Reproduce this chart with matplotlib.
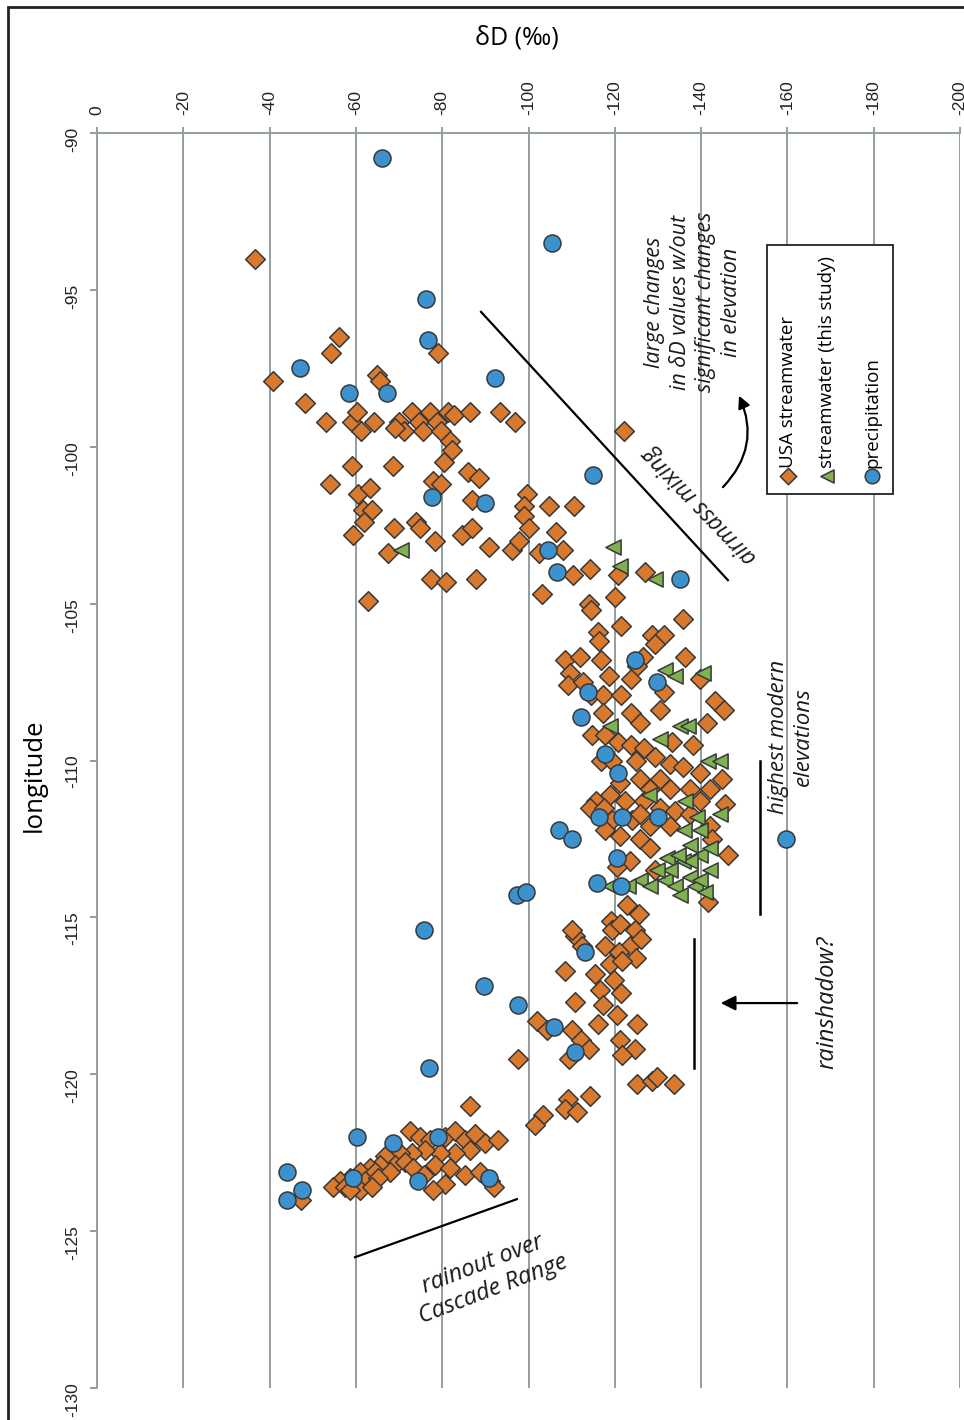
import numpy as np
import matplotlib.pyplot as plt
from matplotlib.patches import Rectangle, FancyArrowPatch

plt.rcParams['axes.unicode_minus'] = False

# precipitation (blue circles): dD (per mil), longitude
precip_dD = [-66, -105.5, -76.2, -76.7, -47, -58.4, -67.2, -92.2, -115, -77.6, -90, -104.5,
             -106.6, -135, -124.7, -129.7, -113.8, -112.2, -117.7, -120.7, -120.5, -116.3,
             -121.6, -130, -115.9, -121.4, -107, -110, -97.3, -99.4, -113.1, -75.8, -89.7,
             -97.6, -105.9, -110.8, -76.9, -159.7, -60.3, -68.6, -79, -59.3, -44, -47.5, -44,
             -74.4, -90.8]
precip_lon = [-90.8, -93.5, -95.3, -96.6, -97.5, -98.3, -98.3, -97.8, -100.9, -101.6, -101.8, -103.3,
              -104.0, -104.2, -106.8, -107.5, -107.8, -108.6, -109.8, -110.4, -113.1, -111.8,
              -111.8, -111.8, -113.9, -114.0, -112.2, -112.5, -114.3, -114.2, -116.1, -115.4, -117.2,
              -117.8, -118.5, -119.3, -119.8, -112.5, -122.0, -122.2, -122.0, -123.3, -123.1, -123.7, -124.0,
              -123.4, -123.3]

# streamwater (this study, green triangles)
study_dD = [-70.5, -119.6, -121.2, -129.3, -131.6, -134, -140.4, -118.9, -130.5, -135.1, -137,
            -141.6, -144.4, -128, -136.3, -139, -144.4, -136, -137.5, -132, -135.8, -139.8, -142.1,
            -125.8, -128.1, -131.6, -134, -137.5, -138.6, -118.9, -123, -139.8, -135.1, -140.9,
            -132.8, -129.8, -139.8, -142.1, -137.5, -134.7]
study_lon = [-103.3, -103.2, -103.8, -104.2, -107.1, -107.3, -107.2, -108.9, -109.3, -108.9, -108.9,
             -110.0, -110.0, -111.1, -111.3, -111.8, -111.7, -112.2, -112.7, -113.1, -113.2, -113.0, -113.5,
             -113.8, -114.0, -113.8, -114.0, -113.7, -114.0, -114.0, -114.0, -113.8, -114.3, -114.2,
             -113.5, -113.5, -112.2, -112.8, -113.2, -113.0]

# USA streamwater (orange diamonds)
usa_dD = [
    # northern / eastern group
    -36.6, -56.1, -54.2, -79, -40.8, -64.9, -65.5, -48.2, -53.1, -59.1, -64.2, -61.2, -60.3, -70,
    -73, -74.6, -77.2, -78.8, -81.4, -82.8, -86.4, -93.4, -96.9, -71.1, -75.5, -79.7, -69, -122.1,
    -81.8, -80.4, -82.3, -59.1, -68.6, -54, -86, -88.5, -77.9, -79.7, -60.5, -63.3, -61.7, -63.7,
    -86.9, -99.6, -104.7, -110.5, -61.9, -68.8, -73.9, -74.8, -78.3, -59.3, -84.6, -86.9, -98.9,
    -98.9, -100.1, -106.4, -90.8, -96.2, -97.8, -102.4, -108, -67.4, -77.4, -80.9, -87.8, -62.8,
    -103.1, -110.3, -114.3, -120.7, -127, -120, -114.1, -114.5,
    # high elevation group
    -135.8, -121.4, -116.1, -128.6, -131.4, -116.3, -129.3, -108.5, -112, -116.8, -109.7, -126.5,
    -125.1, -136.3, -109.2, -112.6, -118.7, -123.8, -131.4, -139.8, -114.5, -117.3, -121.4, -117.3,
    -123.8, -130.5, -143.2, -145.3, -125.8, -114.7, -117.7, -120.7, -123.8, -126.8, -133.3, -141.4,
    -138.1, -116.8, -119.3, -124.9, -129.3, -132.8, -135.8, -139.8, -144.8, -142.1, -121.2, -125.8,
    -128.1, -130.5, -132.8, -137.5, -139.8, -118.9, -115.6, -114.3, -117.5, -122.3, -126.8, -130.5,
    -134, -145.5, -119.3, -123.9, -125.8, -128.1, -132.8, -137.5, -142.1, -125.8, -121.2, -117.7,
    -142.6, -146.2, -123.5, -120.5, -128.1, -129.3, -141.6, -122.8, -125.6, -119.1,
    # basin group
    -119.3, -121.2, -124.7, -123.5, -126.1, -117.7, -120.9, -124.9, -110.8, -112.4, -110.1, -118.9,
    -121.6, -115.3, -119.8, -108.5, -116.6, -121.4, -117.3, -110.8, -116.1, -125.1, -120.5, -102,
    -104.3, -110.1, -112.2, -121.2, -114.1, -124.7, -121.6, -97.6, -109.4, -125.1, -128.6, -129.7,
    -133.7, -114.3, -109.2, -108.5, -111.3, -103.4, -101.5, -86.4,
    # Cascade group
    -72.5, -74.8, -77.2, -80.6, -82.9, -85.2, -87.6, -89.9, -92.9, -86.4, -82.9, -79.5, -76, -73,
    -70.2, -66.8, -69, -71.4, -65.6, -63.3, -61, -64.5, -67.9, -58.7, -56.3, -54.7, -57.5, -59.8,
    -62.1, -65.1, -61, -63.7, -58.7, -78.3, -81.8, -85.2, -88.7, -80.6, -77.9, -91, -91.9, -47.3,
    -73.3, -75.8]
usa_lon = [
    -94.0, -96.5, -97.0, -97.0, -97.9, -97.7, -97.9, -98.6, -99.2, -99.2, -99.2, -99.5, -98.9, -99.2,
    -98.9, -99.2, -98.9, -99.2, -98.9, -99.0, -98.9, -98.9, -99.2, -99.5, -99.5, -99.5, -99.4, -99.5,
    -99.8, -100.5, -100.1, -100.6, -100.6, -101.2, -100.8, -101.0, -101.1, -101.2, -101.5, -101.3, -102.0, -102.0,
    -101.7, -101.5, -101.9, -101.9, -102.4, -102.6, -102.4, -102.6, -103.0, -102.8, -102.8, -102.6, -101.9,
    -102.2, -102.6, -102.7, -103.2, -103.3, -103.0, -103.4, -103.3, -103.4, -104.2, -104.3, -104.2, -104.9,
    -104.7, -104.1, -103.9, -104.1, -104.0, -104.8, -105.0, -105.2,
    -105.5, -105.7, -105.9, -106.0, -106.0, -106.2, -106.3, -106.8, -106.7, -106.8, -107.2, -106.7,
    -107.0, -106.7, -107.6, -107.5, -107.3, -107.4, -107.8, -107.4, -107.9, -107.9, -107.9, -108.5,
    -108.5, -108.4, -108.1, -108.4, -108.8, -109.2, -109.2, -109.4, -109.5, -109.6, -109.4, -108.8,
    -109.5, -110.0, -110.0, -110.0, -109.9, -110.1, -110.2, -110.4, -110.6, -110.9, -110.7, -110.6,
    -110.9, -110.6, -110.9, -110.9, -111.3, -111.1, -111.3, -111.5, -111.5, -111.3, -111.3, -111.5,
    -111.6, -111.4, -111.9, -111.9, -111.7, -112.1, -112.1, -111.7, -112.1, -112.5, -112.4, -112.2,
    -112.5, -113.0, -113.2, -113.4, -112.8, -113.5, -114.5, -114.6, -114.9, -115.1,
    -115.4, -115.2, -115.4, -115.9, -115.7, -115.9, -116.1, -116.3, -115.6, -115.9, -115.4, -116.5,
    -116.4, -116.8, -117.0, -116.7, -117.3, -117.4, -117.8, -117.7, -118.4, -118.4, -118.1, -118.3,
    -118.6, -118.6, -118.9, -118.9, -119.2, -119.2, -119.4, -119.5, -119.5, -120.3, -120.2, -120.1,
    -120.3, -120.7, -120.8, -121.1, -121.2, -121.3, -121.6, -121.0,
    -121.8, -122.0, -122.1, -122.0, -121.8, -122.1, -121.9, -122.2, -122.1, -122.4, -122.5, -122.5, -122.4, -122.5,
    -122.5, -122.6, -122.9, -122.8, -122.9, -123.0, -123.1, -123.1, -123.1, -123.3, -123.4, -123.6, -123.6, -123.4,
    -123.4, -123.3, -123.7, -123.6, -123.7, -122.9, -123.0, -123.2, -123.1, -123.5, -123.7, -123.4, -123.6, -124.0,
    -123.0, -123.2]

dD_ticks = list(range(0, -201, -20))
lon_ticks = list(range(-90, -131, -5))

orange = '#d8792e'
green = '#7fb24f'
blue = '#3b92cf'
edge = '#383838'
gray = '#939e9e'

fig = plt.figure(figsize=(9.64, 14.2), dpi=100)
ax = fig.add_axes([0.1006, 0.0225, 0.8953, 0.8838])

ax.scatter(usa_dD, usa_lon, marker='D', s=100, c=orange, edgecolors=edge, linewidths=1.1, zorder=3, clip_on=False)
ax.scatter(study_dD, study_lon, marker='<', s=120, c=green, edgecolors=edge, linewidths=1.1, zorder=4, clip_on=False)
ax.scatter(precip_dD, precip_lon, marker='o', s=150, c=blue, edgecolors=edge, linewidths=1.1, zorder=5, clip_on=False)

ax.set_xlim(0, -200)
ax.set_ylim(-130, -90)
ax.set_xticks(dD_ticks)
ax.set_yticks(lon_ticks)
ax.xaxis.set_ticks_position('top')
ax.xaxis.set_label_position('top')
ax.grid(axis='x', color=gray, lw=1.4, zorder=1)
for side in ['right', 'bottom']:
    ax.spines[side].set_visible(False)
for side in ['left', 'top']:
    ax.spines[side].set_color(gray)
    ax.spines[side].set_linewidth(1.4)
ax.tick_params(axis='x', top=True, bottom=False, labeltop=True, labelbottom=False,
               labelrotation=90, length=4, width=1.4, color=gray, pad=9)
ax.tick_params(axis='y', length=5, width=1.4, color=gray, labelrotation=90, pad=7)
for lab in ax.get_xticklabels() + ax.get_yticklabels():
    lab.set_fontfamily('Liberation Sans')
    lab.set_fontsize(12.5)
    lab.set_color('#222222')

fig.text(0.5363, 0.973, 'δD (‰)', family='Open Sans', fontsize=18, ha='center', va='center')
fig.text(0.036, 0.454, 'longitude', family='Open Sans', fontsize=18.5, rotation=90, ha='center', va='center')

ital = dict(family='Open Sans', style='italic', color='#1a1a1a')

# airmass mixing
ax.plot([-89, -146.2], [-95.7, -104.25], color='black', lw=1.6, zorder=6)
ax.text(-139.7, -101.86, 'airmass mixing', rotation=-226, ha='center', va='center', fontsize=16.5, **ital)
ax.text(-138.1, -95.39, 'large changes\nin δD values w/out\nsignificant changes\nin elevation',
        rotation=90, ha='center', va='center', multialignment='center', linespacing=1.3,
        fontsize=15.5, **ital)
ax.add_patch(FancyArrowPatch((-144.6, -101.35), (-148.5, -98.29), connectionstyle='arc3,rad=0.35',
                             arrowstyle='-|>', mutation_scale=18, lw=1.6, color='black', zorder=6))

# highest modern elevations
ax.plot([-153.7, -153.7], [-110, -114.9], color='black', lw=1.8, zorder=6)
ax.text(-160.8, -109.25, 'highest modern\nelevations', rotation=90, ha='center', va='center',
        multialignment='center', linespacing=1.2, fontsize=16, **ital)

# rainshadow
ax.plot([-138.4, -138.4], [-115.7, -119.8], color='black', lw=1.8, zorder=6)
ax.annotate('', xy=(-143.9, -117.73), xytext=(-162.9, -117.73),
            arrowprops=dict(arrowstyle='-|>', mutation_scale=22, lw=1.6, color='black'), zorder=6)
ax.text(-169.2, -117.7, 'rainshadow?', rotation=90, ha='center', va='center', fontsize=17, **ital)

# rainout
ax.plot([-59.8, -97.3], [-125.83, -123.98], color='black', lw=1.6, zorder=6)
ax.text(-90.6, -126.45, 'rainout over\nCascade Range', rotation=21, ha='center', va='center',
        multialignment='center', linespacing=1.15, fontsize=17, **ital)

# legend (rotated, drawn by hand)
ax.add_patch(Rectangle((0.776, 0.7124), 0.146, 0.1984, transform=ax.transAxes, facecolor='white',
                       edgecolor='#222222', lw=1.3, zorder=7))
leg = [('D', orange, 'USA streamwater', 0.8007, 70),
       ('<', green, 'streamwater (this study)', 0.8459, 90),
       ('o', blue, 'precipitation', 0.898, 110)]
for mk, col, name, xf, sz in leg:
    ax.scatter([xf], [0.7267], marker=mk, s=sz, c=col, edgecolors=edge, linewidths=1.1,
               transform=ax.transAxes, zorder=8, clip_on=False)
    ax.text(xf, 0.7335, name, transform=ax.transAxes, rotation=90, ha='center', va='bottom',
            family='Open Sans', fontsize=13.5, zorder=8)

# outer frame
fig.patches.append(Rectangle((8 / 964, -0.05), 1.2, 1.05 - 7 / 1420, transform=fig.transFigure,
                             fill=False, edgecolor='#222222', lw=2))

fig.savefig('out.png', dpi=100)
